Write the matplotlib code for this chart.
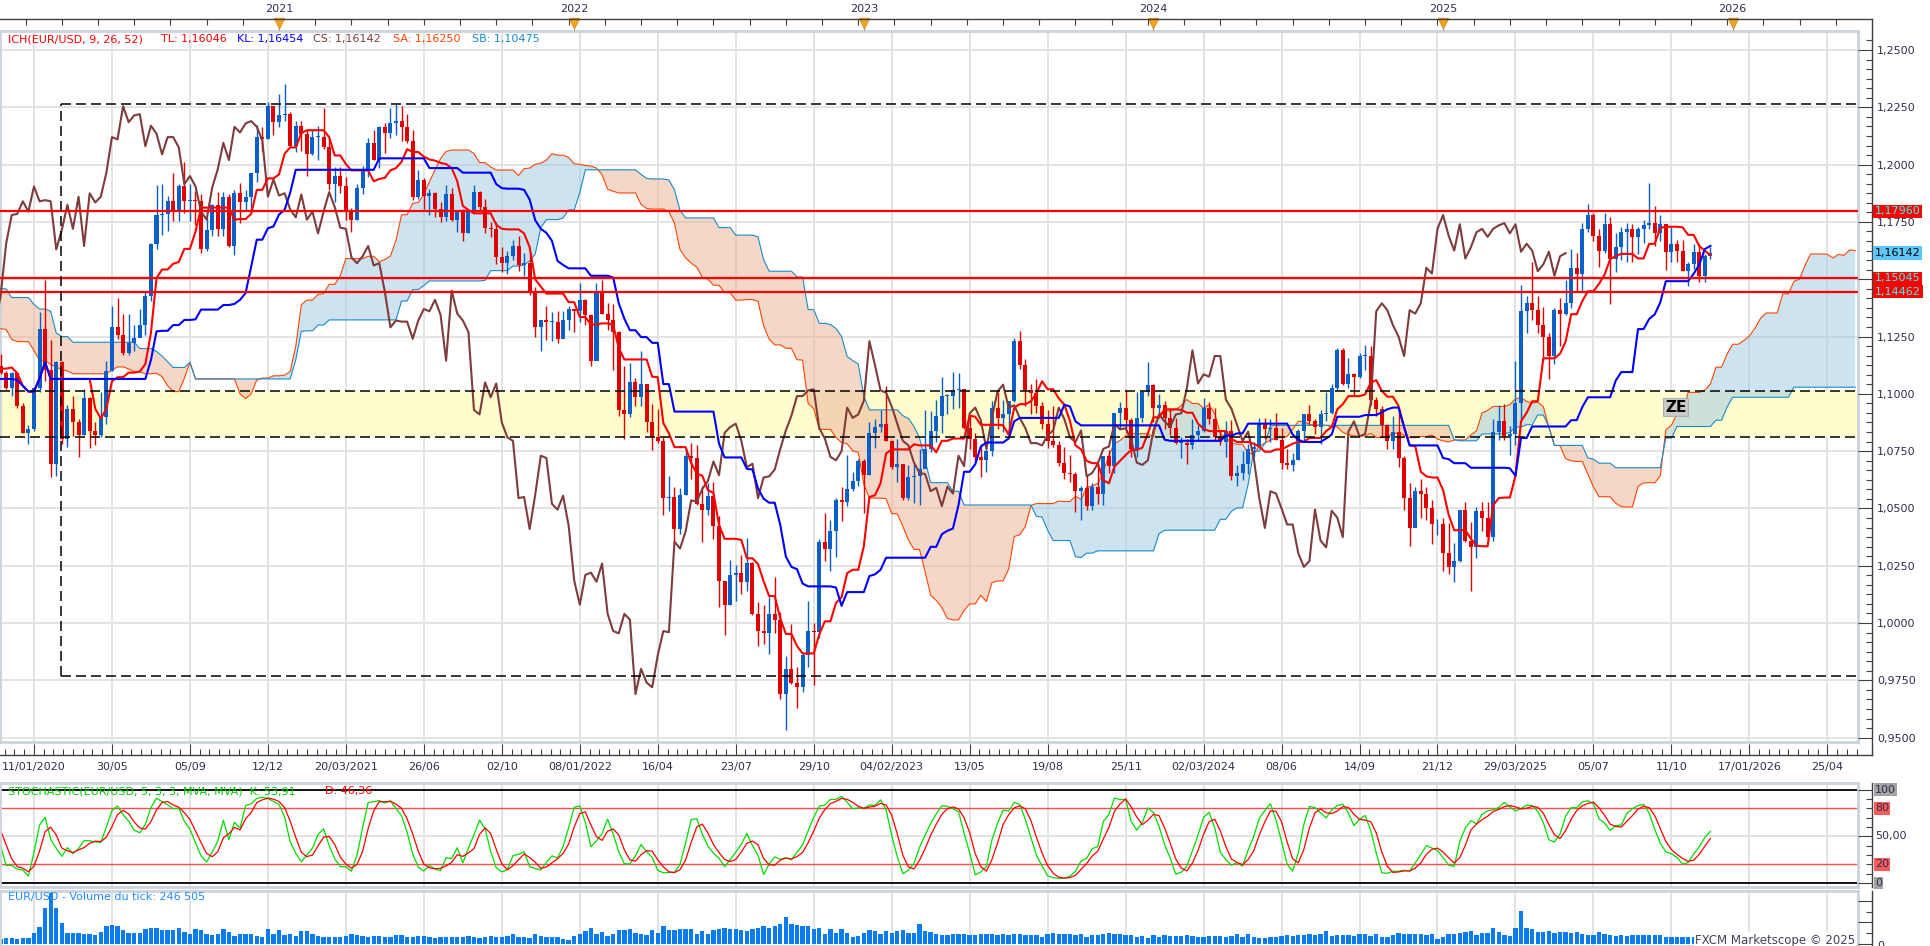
import numpy as np
import pandas as pd
import matplotlib
matplotlib.use("Agg")
import matplotlib.pyplot as plt
import matplotlib.transforms as mtransforms
from matplotlib.lines import Line2D
from matplotlib.ticker import MultipleLocator, AutoMinorLocator, FixedLocator, NullFormatter, FuncFormatter

plt.rcParams['font.family'] = ['DejaVu Sans']
plt.rcParams['lines.scale_dashes'] = False

# weekly EUR/USD candles (high, low, close), one row per week.
# 2018/2019 rows are only the warm-up for the Ichimoku spans (not drawn as candles)
ohlc_2018 = [
    (1.1745, 1.1575, 1.1720), (1.1750, 1.1610, 1.1655), (1.1700, 1.1530, 1.1565), (1.1625, 1.1410, 1.1410),
    (1.1450, 1.1300, 1.1440), (1.1625, 1.1440, 1.1620), (1.1735, 1.1580, 1.1600), (1.1640, 1.1525, 1.1550),
    (1.1720, 1.1530, 1.1625), (1.1815, 1.1610, 1.1745), (1.1795, 1.1570, 1.1605), (1.1625, 1.1460, 1.1525),
    (1.1610, 1.1430, 1.1560), (1.1620, 1.1430, 1.1515), (1.1510, 1.1335, 1.1400), (1.1455, 1.1300, 1.1385),
    (1.1500, 1.1330, 1.1335), (1.1420, 1.1215, 1.1415), (1.1470, 1.1335, 1.1340), (1.1385, 1.1265, 1.1315),
    (1.1420, 1.1315, 1.1375), (1.1440, 1.1270, 1.1305), (1.1485, 1.1315, 1.1370), (1.1485, 1.1360, 1.1440),
]
ohlc_2019 = [
    (1.1500, 1.1310, 1.1395), (1.1570, 1.1390, 1.1470), (1.1505, 1.1355, 1.1365), (1.1410, 1.1290, 1.1405),
    (1.1515, 1.1395, 1.1455), (1.1490, 1.1320, 1.1325), (1.1340, 1.1235, 1.1295), (1.1370, 1.1300, 1.1335),
    (1.1420, 1.1325, 1.1365), (1.1375, 1.1175, 1.1235), (1.1345, 1.1215, 1.1325), (1.1450, 1.1275, 1.1300),
    (1.1325, 1.1215, 1.1220), (1.1255, 1.1185, 1.1215), (1.1325, 1.1205, 1.1300), (1.1325, 1.1225, 1.1245),
    (1.1265, 1.1110, 1.1150), (1.1265, 1.1135, 1.1200), (1.1250, 1.1170, 1.1235), (1.1265, 1.1155, 1.1160),
    (1.1215, 1.1105, 1.1205), (1.1215, 1.1120, 1.1170), (1.1350, 1.1160, 1.1335), (1.1345, 1.1205, 1.1210),
    (1.1375, 1.1180, 1.1370), (1.1410, 1.1350, 1.1370), (1.1375, 1.1220, 1.1225), (1.1285, 1.1195, 1.1270),
    (1.1285, 1.1200, 1.1220), (1.1230, 1.1100, 1.1125), (1.1160, 1.1025, 1.1110), (1.1250, 1.1110, 1.1200),
    (1.1230, 1.1065, 1.1090), (1.1160, 1.1050, 1.1145), (1.1165, 1.0965, 1.0990), (1.1085, 1.0925, 1.1030),
    (1.1110, 1.0925, 1.1075), (1.1075, 1.0990, 1.1015), (1.1025, 1.0905, 1.0940), (1.0990, 1.0880, 1.0980),
    (1.1065, 1.0945, 1.1040), (1.1180, 1.1000, 1.1145), (1.1180, 1.1075, 1.1080), (1.1175, 1.1075, 1.1165),
    (1.1175, 1.1015, 1.1020), (1.1070, 1.0990, 1.1050), (1.1095, 1.1000, 1.1020), (1.1030, 1.0980, 1.1015),
    (1.1115, 1.1015, 1.1060), (1.1200, 1.1040, 1.1120), (1.1155, 1.1065, 1.1075), (1.1190, 1.1070, 1.1175),
]
ohlc_2020 = [
    (1.1240, 1.1125, 1.1160), (1.1205, 1.1085, 1.1120), (1.1175, 1.1085, 1.1090), (1.1100, 1.1020, 1.1025),
    (1.1095, 1.0990, 1.1090), (1.1095, 1.0940, 1.0945), (1.0960, 1.0830, 1.0830), (1.0865, 1.0780, 1.0845),
    (1.1030, 1.0840, 1.1025), (1.1355, 1.1010, 1.1285), (1.1495, 1.1055, 1.1105), (1.1235, 1.0635, 1.0695),
    (1.1145, 1.0640, 1.1140), (1.1145, 1.0780, 1.0805), (1.0950, 1.0770, 1.0935), (1.0990, 1.0815, 1.0875),
    (1.0890, 1.0725, 1.0820), (1.1020, 1.0820, 1.0980), (1.0985, 1.0765, 1.0840), (1.0875, 1.0775, 1.0820),
    (1.1010, 1.0810, 1.0900), (1.1145, 1.0870, 1.1100), (1.1385, 1.1100, 1.1290), (1.1420, 1.1240, 1.1255),
    (1.1350, 1.1170, 1.1180), (1.1350, 1.1170, 1.1220), (1.1300, 1.1185, 1.1245), (1.1370, 1.1255, 1.1300),
    (1.1450, 1.1255, 1.1425), (1.1660, 1.1405, 1.1655), (1.1910, 1.1630, 1.1780), (1.1915, 1.1695, 1.1785),
    (1.1865, 1.1710, 1.1840), (1.1965, 1.1755, 1.1795), (1.1915, 1.1755, 1.1905), (1.2010, 1.1790, 1.1840),
    (1.1915, 1.1755, 1.1845), (1.1885, 1.1735, 1.1840), (1.1870, 1.1615, 1.1630), (1.1770, 1.1625, 1.1715),
    (1.1830, 1.1690, 1.1825), (1.1880, 1.1690, 1.1720), (1.1880, 1.1690, 1.1860), (1.1870, 1.1640, 1.1645),
    (1.1890, 1.1605, 1.1875), (1.1920, 1.1745, 1.1835), (1.1890, 1.1800, 1.1860), (1.1965, 1.1800, 1.1965),
    (1.2175, 1.1925, 1.2120), (1.2165, 1.2060, 1.2110), (1.2275, 1.2110, 1.2255), (1.2250, 1.2130, 1.2185),
]
ohlc_2021 = [
    (1.2310, 1.2165, 1.2215), (1.2350, 1.2190, 1.2220), (1.2230, 1.2075, 1.2080), (1.2190, 1.2055, 1.2170),
    (1.2190, 1.2060, 1.2135), (1.2150, 1.1950, 1.2045), (1.2150, 1.2040, 1.2120), (1.2170, 1.2020, 1.2120),
    (1.2245, 1.2070, 1.2075), (1.2115, 1.1890, 1.1915), (1.1990, 1.1835, 1.1950), (1.1990, 1.1875, 1.1905),
    (1.1945, 1.1760, 1.1795), (1.1810, 1.1705, 1.1760), (1.1915, 1.1760, 1.1900), (1.1995, 1.1870, 1.1980),
    (1.2115, 1.1945, 1.2095), (1.2150, 1.2020, 1.2020), (1.2170, 1.1985, 1.2165), (1.2180, 1.2050, 1.2140),
    (1.2245, 1.2115, 1.2180), (1.2265, 1.2130, 1.2190), (1.2255, 1.2105, 1.2165), (1.2220, 1.2095, 1.2105),
    (1.2150, 1.1845, 1.1860), (1.1975, 1.1850, 1.1935), (1.1940, 1.1805, 1.1865), (1.1895, 1.1780, 1.1875),
    (1.1880, 1.1770, 1.1805), (1.1835, 1.1750, 1.1770), (1.1910, 1.1755, 1.1870), (1.1900, 1.1755, 1.1760),
    (1.1800, 1.1705, 1.1795), (1.1805, 1.1665, 1.1700), (1.1805, 1.1700, 1.1795), (1.1910, 1.1795, 1.1880),
    (1.1885, 1.1800, 1.1815), (1.1850, 1.1700, 1.1725), (1.1750, 1.1685, 1.1720), (1.1750, 1.1565, 1.1595),
    (1.1640, 1.1530, 1.1570), (1.1625, 1.1525, 1.1600), (1.1670, 1.1585, 1.1645), (1.1690, 1.1535, 1.1560),
    (1.1615, 1.1515, 1.1570), (1.1615, 1.1430, 1.1445), (1.1465, 1.1250, 1.1290), (1.1320, 1.1185, 1.1320),
    (1.1385, 1.1235, 1.1315), (1.1355, 1.1230, 1.1315), (1.1360, 1.1220, 1.1240), (1.1360, 1.1260, 1.1320),
    (1.1385, 1.1280, 1.1370),
]
ohlc_2022 = [
    (1.1370, 1.1270, 1.1360), (1.1485, 1.1315, 1.1410), (1.1415, 1.1300, 1.1345), (1.1350, 1.1120, 1.1145),
    (1.1485, 1.1155, 1.1450), (1.1495, 1.1350, 1.1350), (1.1395, 1.1280, 1.1320), (1.1390, 1.1105, 1.1270),
    (1.1275, 1.0905, 1.0930), (1.1120, 1.0805, 1.0910), (1.1135, 1.0900, 1.1050), (1.1070, 1.0945, 1.0985),
    (1.1185, 1.0945, 1.1045), (1.1045, 1.0835, 1.0875), (1.0955, 1.0755, 1.0810), (1.0935, 1.0785, 1.0795),
    (1.0810, 1.0470, 1.0545), (1.0640, 1.0490, 1.0550), (1.0595, 1.0350, 1.0410), (1.0590, 1.0390, 1.0560),
    (1.0765, 1.0560, 1.0730), (1.0785, 1.0630, 1.0720), (1.0775, 1.0515, 1.0520), (1.0600, 1.0355, 1.0495),
    (1.0610, 1.0470, 1.0555), (1.0615, 1.0365, 1.0425), (1.0465, 1.0070, 1.0185), (1.0185, 0.9950, 1.0080),
    (1.0275, 1.0080, 1.0210), (1.0255, 1.0095, 1.0220), (1.0295, 1.0125, 1.0180), (1.0370, 1.0140, 1.0260),
    (1.0265, 1.0035, 1.0040), (1.0090, 0.9900, 0.9965), (1.0080, 0.9910, 0.9955), (1.0115, 0.9865, 1.0040),
    (1.0200, 0.9955, 1.0015), (1.0050, 0.9670, 0.9690), (0.9855, 0.9535, 0.9800), (0.9995, 0.9735, 0.9740),
    (0.9810, 0.9630, 0.9720), (0.9875, 0.9700, 0.9860), (1.0095, 0.9810, 0.9965), (1.0000, 0.9730, 0.9960),
    (1.0365, 0.9935, 1.0355), (1.0480, 1.0270, 1.0325), (1.0450, 1.0225, 1.0400), (1.0545, 1.0290, 1.0535),
    (1.0595, 1.0445, 1.0530), (1.0735, 1.0510, 1.0585), (1.0660, 1.0575, 1.0620), (1.0715, 1.0600, 1.0705),
]
ohlc_2023 = [
    (1.0715, 1.0480, 1.0645), (1.0875, 1.0645, 1.0830), (1.0890, 1.0765, 1.0855), (1.0930, 1.0835, 1.0870),
    (1.1035, 1.0795, 1.0795), (1.0800, 1.0670, 1.0680), (1.0805, 1.0615, 1.0695), (1.0695, 1.0535, 1.0545),
    (1.0690, 1.0535, 1.0635), (1.0695, 1.0525, 1.0640), (1.0760, 1.0515, 1.0670), (1.0930, 1.0715, 1.0760),
    (1.0925, 1.0745, 1.0840), (1.0975, 1.0790, 1.0905), (1.1075, 1.0830, 1.0990), (1.1000, 1.0910, 1.0990),
    (1.1095, 1.0935, 1.1015), (1.1090, 1.0940, 1.1020), (1.1005, 1.0845, 1.0850), (1.0905, 1.0760, 1.0805),
    (1.0830, 1.0705, 1.0725), (1.0780, 1.0635, 1.0710), (1.0790, 1.0660, 1.0750), (1.0970, 1.0730, 1.0940),
    (1.1010, 1.0845, 1.0895), (1.0975, 1.0835, 1.0910), (1.0970, 1.0835, 1.0970), (1.1245, 1.0965, 1.1230),
    (1.1275, 1.1110, 1.1125), (1.1150, 1.0945, 1.1015), (1.1045, 1.0910, 1.1005), (1.1065, 1.0915, 1.0945),
    (1.0965, 1.0845, 1.0870), (1.0930, 1.0765, 1.0795), (1.0945, 1.0770, 1.0775), (1.0795, 1.0685, 1.0700),
    (1.0770, 1.0630, 1.0655), (1.0735, 1.0615, 1.0650), (1.0660, 1.0485, 1.0575), (1.0600, 1.0450, 1.0590),
    (1.0640, 1.0495, 1.0510), (1.0610, 1.0495, 1.0595), (1.0695, 1.0520, 1.0565), (1.0730, 1.0515, 1.0730),
    (1.0755, 1.0655, 1.0685), (1.0915, 1.0655, 1.0915), (1.0965, 1.0850, 1.0940), (1.1015, 1.0830, 1.0885),
    (1.0895, 1.0725, 1.0760), (1.1010, 1.0725, 1.0895), (1.1015, 1.0875, 1.1010), (1.1140, 1.0990, 1.1040),
]
ohlc_2024 = [
    (1.1045, 1.0875, 1.0940), (1.1000, 1.0895, 1.0950), (1.0970, 1.0845, 1.0895), (1.0935, 1.0820, 1.0850),
    (1.0895, 1.0780, 1.0785), (1.0810, 1.0720, 1.0785), (1.0805, 1.0695, 1.0775), (1.0890, 1.0760, 1.0820),
    (1.0865, 1.0795, 1.0840), (1.0980, 1.0835, 1.0940), (1.0965, 1.0870, 1.0890), (1.0940, 1.0800, 1.0810),
    (1.0840, 1.0775, 1.0790), (1.0880, 1.0725, 1.0840), (1.0885, 1.0625, 1.0640), (1.0690, 1.0600, 1.0655),
    (1.0750, 1.0625, 1.0695), (1.0780, 1.0650, 1.0760), (1.0790, 1.0725, 1.0770), (1.0895, 1.0765, 1.0870),
    (1.0895, 1.0805, 1.0845), (1.0890, 1.0790, 1.0850), (1.0915, 1.0800, 1.0800), (1.0850, 1.0670, 1.0700),
    (1.0760, 1.0670, 1.0690), (1.0740, 1.0665, 1.0710), (1.0845, 1.0710, 1.0840), (1.0910, 1.0795, 1.0910),
    (1.0950, 1.0870, 1.0880), (1.0890, 1.0825, 1.0855), (1.0930, 1.0780, 1.0910), (1.1010, 1.0880, 1.0915),
    (1.1045, 1.0910, 1.1025), (1.1200, 1.1015, 1.1190), (1.1200, 1.1040, 1.1045), (1.1155, 1.1025, 1.1085),
    (1.1090, 1.0995, 1.1075), (1.1180, 1.1070, 1.1165), (1.1215, 1.1105, 1.1165), (1.1210, 1.0950, 1.0975),
    (1.0985, 1.0905, 1.0935), (1.0945, 1.0810, 1.0865), (1.0870, 1.0760, 1.0795), (1.0905, 1.0760, 1.0835),
    (1.0935, 1.0680, 1.0720), (1.0730, 1.0495, 1.0545), (1.0610, 1.0335, 1.0415), (1.0595, 1.0425, 1.0575),
    (1.0630, 1.0460, 1.0565), (1.0595, 1.0450, 1.0500), (1.0535, 1.0345, 1.0430), (1.0455, 1.0385, 1.0430),
]
ohlc_2025 = [
    (1.0460, 1.0225, 1.0305), (1.0435, 1.0215, 1.0245), (1.0350, 1.0180, 1.0270), (1.0495, 1.0265, 1.0495),
    (1.0530, 1.0355, 1.0360), (1.0440, 1.0140, 1.0330), (1.0505, 1.0285, 1.0490), (1.0530, 1.0400, 1.0460),
    (1.0530, 1.0360, 1.0375), (1.0890, 1.0360, 1.0835), (1.0950, 1.0800, 1.0880), (1.0955, 1.0800, 1.0815),
    (1.0860, 1.0735, 1.0825), (1.1145, 1.0775, 1.0960), (1.1475, 1.0880, 1.1360), (1.1425, 1.1265, 1.1395),
    (1.1575, 1.1320, 1.1365), (1.1425, 1.1265, 1.1300), (1.1380, 1.1145, 1.1250), (1.1265, 1.1065, 1.1165),
    (1.1375, 1.1130, 1.1365), (1.1420, 1.1210, 1.1350), (1.1495, 1.1345, 1.1395), (1.1630, 1.1373, 1.1550),
    (1.1615, 1.1445, 1.1525), (1.1745, 1.1450, 1.1720), (1.1830, 1.1705, 1.1780), (1.1790, 1.1665, 1.1690),
    (1.1720, 1.1555, 1.1625), (1.1790, 1.1615, 1.1740), (1.1770, 1.1391, 1.1590), (1.1700, 1.1530, 1.1640),
    (1.1730, 1.1585, 1.1705), (1.1745, 1.1575, 1.1720), (1.1740, 1.1575, 1.1685), (1.1730, 1.1610, 1.1720),
    (1.1760, 1.1660, 1.1735), (1.1918, 1.1720, 1.1745), (1.1820, 1.1645, 1.1700), (1.1780, 1.1665, 1.1740),
    (1.1740, 1.1540, 1.1620), (1.1730, 1.1575, 1.1655), (1.1670, 1.1575, 1.1625), (1.1670, 1.1535, 1.1535),
    (1.1575, 1.1469, 1.1565), (1.1655, 1.1545, 1.1620), (1.1655, 1.1490, 1.1515), (1.1610, 1.1490, 1.1600),
    (1.1640, 1.1590, 1.1614),
]

# tick volume of the visible weeks (11/01/2020 .. last week), panel units
vol_2020 = [15, 17, 17, 15, 18, 18, 35, 53, 110, 160, 110, 65, 35, 35, 35, 32, 30, 28, 38, 55,
            57, 55, 42, 35, 35, 35, 45, 50, 48, 42, 42, 42, 48, 38, 32, 45, 42, 30, 28, 32,
            45, 38, 25, 30, 30, 30, 25, 22, 45, 30]
vol_2021 = [42, 28, 30, 25, 40, 40, 32, 25, 22, 20, 22, 22, 25, 30, 28, 25, 20, 25, 25, 20,
            20, 28, 28, 20, 20, 25, 25, 20, 18, 20, 20, 20, 22, 22, 25, 20, 18, 22, 25, 22,
            20, 25, 30, 22, 22, 18, 30, 25, 20, 20, 20, 15, 12]
vol_2022 = [25, 30, 40, 48, 30, 38, 25, 30, 42, 42, 45, 35, 30, 28, 42, 35, 55, 42, 42, 45,
            45, 45, 32, 40, 32, 42, 45, 50, 45, 45, 42, 40, 45, 50, 55, 48, 55, 60, 82, 62,
            58, 55, 55, 45, 50, 32, 45, 35, 45, 35, 20, 25]
vol_2023 = [35, 42, 40, 30, 40, 35, 40, 42, 35, 35, 60, 40, 38, 30, 28, 28, 30, 32, 30, 28,
            28, 32, 32, 30, 28, 32, 28, 30, 32, 28, 28, 28, 22, 32, 35, 32, 30, 32, 28, 30,
            22, 28, 28, 32, 35, 32, 30, 28, 28, 22, 25, 18]
vol_2024 = [28, 22, 28, 25, 25, 25, 28, 25, 22, 22, 25, 25, 25, 20, 25, 30, 20, 30, 22, 18,
            18, 20, 22, 25, 28, 25, 28, 28, 30, 28, 32, 40, 25, 28, 28, 28, 25, 30, 30, 25,
            30, 22, 22, 28, 35, 30, 30, 32, 32, 28, 30, 15]
vol_2025 = [22, 32, 32, 35, 38, 40, 28, 35, 35, 48, 38, 28, 25, 50, 102, 50, 45, 38, 38, 40,
            35, 38, 38, 35, 38, 30, 28, 28, 38, 30, 28, 25, 28, 25, 28, 28, 28, 28, 28, 28,
            22, 22, 20, 20, 20, 22, 22, 20, 18]

# axis texts
date_labels = ["11/01/2020", "30/05", "05/09", "12/12", "20/03/2021", "26/06", "02/10", "08/01/2022",
               "16/04", "23/07", "29/10", "04/02/2023", "13/05", "19/08", "25/11", "02/03/2024",
               "08/06", "14/09", "21/12", "29/03/2025", "05/07", "11/10", "17/01/2026", "25/04"]
years = ["2021", "2022", "2023", "2024", "2025", "2026"]
year_weeks = [44, 97, 149, 201, 253, 305]

# drawn objects on the price panel
red_levels = [1.17960, 1.15045, 1.14462]
zone_band = (1.0811, 1.1014)
box_levels = (0.9768, 1.2264)
box_left = 4.85
ze_pos = (294.8, 1.0942)

# ---------------------------------------------------------------- data prep
rows = ohlc_2018 + ohlc_2019 + ohlc_2020 + ohlc_2021 + ohlc_2022 + ohlc_2023 + ohlc_2024 + ohlc_2025
H = np.array([r[0] for r in rows])
L = np.array([r[1] for r in rows])
C = np.array([r[2] for r in rows])
O = np.r_[C[0], C[:-1]]
x = np.arange(len(C)) - 84          # 0 = week of 22/02/2020
vis = x >= -6

hs, ls = pd.Series(H), pd.Series(L)
def midline(n):
    return ((hs.rolling(n).max() + ls.rolling(n).min()) / 2).values
tenkan = midline(9)
kijun = midline(26)
span_a = (tenkan + kijun) / 2
span_b = midline(52)

ll5, hh5 = ls.rolling(5).min(), hs.rolling(5).max()
fast_k = 100 * (pd.Series(C) - ll5) / (hh5 - ll5)
stoch_k = fast_k.rolling(3).mean().values
stoch_d = pd.Series(stoch_k).rolling(3).mean().values

vol = np.array(vol_2020 + vol_2021 + vol_2022 + vol_2023 + vol_2024 + vol_2025)
xv = np.arange(len(vol)) - 6

# ---------------------------------------------------------------- figure
W, HT = 1930, 946
fig = plt.figure(figsize=(W / 100, HT / 100), dpi=100)
fig.patch.set_facecolor('white')

def px_box(x0, y0, x1, y1):
    return [x0 / W, 1 - y1 / HT, (x1 - x0) / W, (y1 - y0) / HT]

XLIM = (-6.1, 327.5)
FRAME = '#ccd3db'
GRID = '#e3e3e3'
AXC = '#404040'
TXT = '#2d2d50'
label_x = np.arange(len(date_labels)) * 14

ax = fig.add_axes(px_box(0, 31, 1858, 742))
ax_top = fig.add_axes(px_box(0, 19, 1858, 31))
ax_dt = fig.add_axes(px_box(0, 742, 1858, 755))
ax_st = fig.add_axes(px_box(0, 783, 1858, 887))
ax_v = fig.add_axes(px_box(0, 891, 1858, 946))

for a in (ax, ax_st, ax_v):
    a.set_xlim(XLIM)
    a.set_xticks(label_x)
    a.grid(True, color=GRID, lw=1.4)
    a.set_axisbelow(True)
    a.tick_params(length=0, labelbottom=False, labelleft=False)
    for s in a.spines.values():
        s.set_color(FRAME)
        s.set_linewidth(2)

# ---- price panel
ax.set_ylim(0.9481, 1.2583)
ax.set_yticks(np.arange(0.95, 1.2501, 0.025))

ax.axhspan(*zone_band, color='#fffccd', lw=0, zorder=1)
xs = x + 26
ax.fill_between(xs, span_a, span_b, where=span_a >= span_b, interpolate=True,
                color='#a4cce4', alpha=0.55, lw=0, zorder=2)
ax.fill_between(xs, span_a, span_b, where=span_a < span_b, interpolate=True,
                color='#edb69b', alpha=0.55, lw=0, zorder=2)
ax.plot(xs, span_a, color='#ff4500', lw=0.8, zorder=3)
ax.plot(xs, span_b, color='#1a8ac8', lw=0.8, zorder=3)

up = C >= O
cols = np.where(up, '#0a60c8', '#e00000')
ax.vlines(x[vis], L[vis], H[vis], colors=cols[vis], lw=1, zorder=4)
ax.bar(x[vis], np.maximum(np.abs(C - O), 0.0003)[vis], bottom=np.minimum(O, C)[vis],
       width=0.72, color=cols[vis], lw=0, zorder=4)

ax.plot(x - 26, C, color='#7e3c3c', lw=1.5, zorder=5)
ax.plot(x[vis], tenkan[vis], color='#ff0000', lw=1.5, zorder=5)
ax.plot(x[vis], kijun[vis], color='#0000ff', lw=1.5, zorder=5)

for lv in red_levels:
    ax.axhline(lv, color='#ff0000', lw=1.6, zorder=6)
dash = dict(color='black', lw=1.1, dashes=(7.2, 3.6), zorder=6)
for lv in zone_band:
    ax.axhline(lv, **dash)
ax.plot([box_left, XLIM[1]], [box_levels[1]] * 2, **dash)
ax.plot([box_left, XLIM[1]], [box_levels[0]] * 2, **dash)
ax.plot([box_left, box_left], box_levels, **dash)

ax.text(*ze_pos, 'ZE', ha='center', va='center', fontsize=11, fontweight='bold', color='black',
        zorder=8, bbox=dict(boxstyle='square,pad=0.12', fc='#c9c9c9', ec='#b0b0b0', lw=0.8))

# ---- right axes
def right_axis(y0, y1, ylim, major, minor, fmt, labels=True):
    ra = fig.add_axes(px_box(1858, y0, 1872, y1))
    ra.set_ylim(ylim)
    ra.patch.set_visible(False)
    for s in ra.spines.values():
        s.set_visible(False)
    ra.xaxis.set_visible(False)
    ra.yaxis.tick_right()
    ra.yaxis.set_major_locator(major)
    ra.yaxis.set_minor_locator(minor)
    ra.yaxis.set_major_formatter(fmt)
    ra.tick_params(axis='y', which='major', direction='in', length=10, width=0.8, color=AXC,
                   pad=3.5, labelsize=8, labelcolor=TXT, labelright=labels)
    ra.tick_params(axis='y', which='minor', direction='in', length=4.3, width=0.8, color=AXC)
    return ra

right_axis(31, 742, ax.get_ylim(), MultipleLocator(0.025), AutoMinorLocator(6),
           FuncFormatter(lambda v, p: f"{v:.4f}".replace('.', ',')))
right_axis(783, 887, (-4.3, 107), FixedLocator([0, 50, 100]), MultipleLocator(10), NullFormatter(), False)
right_axis(891, 946, (-6, 162), FixedLocator([0, 66, 132]), FixedLocator([33, 99, 165]), NullFormatter(), False)

for y0, y1 in [(19, 755), (783, 887), (891, 946)]:
    fig.add_artist(Line2D([1872 / W] * 2, [1 - y0 / HT, 1 - y1 / HT], color=AXC, lw=1))
fig.add_artist(Line2D([0, 1872 / W], [1 - 19 / HT] * 2, color=AXC, lw=1))
fig.add_artist(Line2D([0, 1872 / W], [1 - 755 / HT] * 2, color=AXC, lw=1))

tagx = 1875 / W
tr_main = mtransforms.blended_transform_factory(fig.transFigure, ax.transData)
tags = [(1.17960, '1,17960', '#ff0000', '#3ff0f0'), (1.16142, '1,16142', '#5ac8fa', 'black'),
        (1.15045, '1,15045', '#ff0000', '#3ff0f0'), (1.14462, '1,14462', '#ff0000', '#3ff0f0')]
for lv, s, bg, fg in tags:
    fig.text(tagx, lv, s, transform=tr_main, ha='left', va='center', fontsize=8, color=fg, zorder=10,
             bbox=dict(boxstyle='square,pad=0.15', fc=bg, ec='none'))

# ---- top year strip
ax_top.set_xlim(XLIM)
ax_top.set_ylim(0, 1)
ax_top.patch.set_visible(False)
for k, s in ax_top.spines.items():
    s.set_visible(False)
top_ticks = np.arange(year_weeks[0] - 6.5 * 7, XLIM[1], 6.5)
ax_top.set_xticks(top_ticks)
ax_top.set_yticks([])
ax_top.tick_params(axis='x', bottom=False, top=True, direction='in', length=4, width=0.8,
                   color=AXC, labelbottom=False, labeltop=False)
tr_top = mtransforms.blended_transform_factory(ax_top.transData, ax_top.transAxes)
ax_top.vlines(year_weeks, 0, 0.4, color='#9a9a9a', lw=0.8, transform=tr_top)
ax_top.plot(year_weeks, [0.68] * len(year_weeks), 'v', ms=7, color='#f5a623', mec='#e8961a',
            transform=tr_top, clip_on=False)
tr_year = mtransforms.blended_transform_factory(ax_top.transData, fig.transFigure)
for wk, yr in zip(year_weeks, years):
    ax_top.text(wk, 1 - 9 / HT, yr, transform=tr_year, ha='center', va='center', fontsize=8, color=TXT)

# ---- date strip
ax_dt.set_xlim(XLIM)
ax_dt.set_ylim(0, 1)
ax_dt.patch.set_visible(False)
for s in ax_dt.spines.values():
    s.set_visible(False)
ax_dt.set_yticks([])
ax_dt.xaxis.set_major_locator(FixedLocator(label_x))
ax_dt.xaxis.set_minor_locator(MultipleLocator(1.75))
ax_dt.set_xticklabels(date_labels)
ax_dt.tick_params(axis='x', which='major', direction='in', length=8, width=0.8, color=AXC,
                  labelsize=8, labelcolor=TXT, pad=5)
ax_dt.tick_params(axis='x', which='minor', direction='in', length=4, width=0.8, color=AXC)

# ---- stochastic
ax_st.set_ylim(-4.3, 107)
ax_st.set_yticks([50])
ax_st.axhline(100, color='black', lw=1.3)
ax_st.axhline(0, color='black', lw=1.3)
ax_st.axhline(80, color='#ff4d4d', lw=1)
ax_st.axhline(20, color='#ff4d4d', lw=1)
ax_st.plot(x[vis], stoch_k[vis], color='#00dd00', lw=0.9)
ax_st.plot(x[vis], stoch_d[vis], color='#ff0000', lw=0.9)
tr_st = mtransforms.blended_transform_factory(fig.transFigure, ax_st.transData)
for lv, s, bg in [(100, '100', '#a3a3a3'), (80, '80', '#ff5a5a'), (50, '50,00', None),
                  (20, '20', '#ff5a5a'), (0, '0', '#a3a3a3')]:
    bb = dict(boxstyle='square,pad=0.12', fc=bg, ec='none') if bg else None
    fig.text(tagx, lv, s, transform=tr_st, ha='left', va='center', fontsize=8, color=TXT, bbox=bb)

# ---- volume
ax_v.set_ylim(-6, 162)
ax_v.set_yticks([])
ax_v.bar(xv, vol, width=0.78, color='#0a7cf0', lw=0)
fig.text(1877 / W, 0.0, '0', ha='left', va='center', fontsize=8, color=TXT)

# ---- panel captions
def cap(xp, yp, s, c, **kw):
    fig.text(xp / W, 1 - yp / HT, s, ha='left', va='center', fontsize=8, color=c, **kw)

cap(8, 39, 'ICH(EUR/USD, 9, 26, 52)', '#ff0000')
cap(161, 39, 'TL: 1,16046', '#ff0000')
cap(237, 39, 'KL: 1,16454', '#0000ff')
cap(313, 39, 'CS: 1,16142', '#7e3c3c')
cap(393, 39, 'SA: 1,16250', '#ff4500')
cap(472, 39, 'SB: 1,10475', '#1a8ac8')
cap(8, 791, 'STOCHASTIC(EUR/USD, 5, 3, 3, MVA, MVA)  K: 53,91', '#00cc00')
cap(325, 791, 'D: 46,36', '#ff0000')
cap(8, 897, 'EUR/USD - Volume du tick: 246 505', '#1e8cff')
fig.text(1855 / W, 1 - 940 / HT, 'FXCM Marketscope \u00a9 2025', ha='right', va='center', fontsize=8.5,
         color='#404060', bbox=dict(boxstyle='square,pad=0.1', fc='white', ec='none'))

fig.savefig('out.png', dpi=100)
